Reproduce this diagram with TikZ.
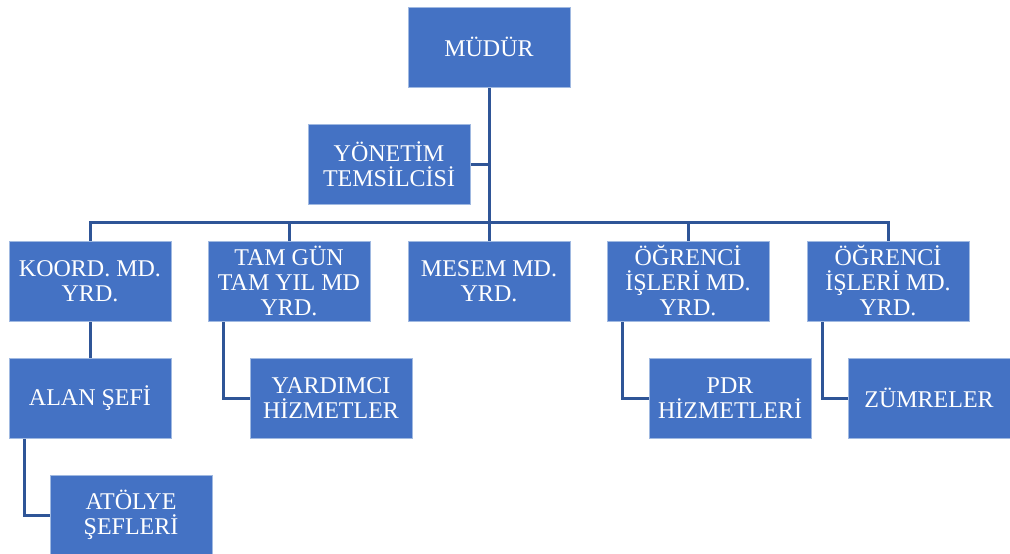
\documentclass[tikz,border=0pt]{standalone}
\usepackage{fontspec}
\setmainfont{Liberation Serif}
\usetikzlibrary{backgrounds}
\definecolor{boxblue}{RGB}{68,114,196}
\definecolor{lineblue}{RGB}{47,85,151}
\definecolor{boxedge}{RGB}{160,185,225}
\tikzset{
  orgbox/.style={rectangle, fill=boxblue, draw=boxedge, line width=0.6pt,
    minimum width=162pt, minimum height=80pt, inner sep=0pt,
    text=white, align=center, font=\fontsize{24}{25}\selectfont},
  conn/.style={draw=lineblue, line width=3pt}
}
\begin{document}
\begin{tikzpicture}[x=1pt,y=-1pt]
\useasboundingbox (0,0) rectangle (1010,554);
\node[orgbox] (mudur) at (489,47) {MÜDÜR};
\node[orgbox] (yon) at (389,164.5) {YÖNETİM\\TEMSİLCİSİ};
\node[orgbox] (koord) at (90,281) {KOORD. MD.\\YRD.};
\node[orgbox] (tam) at (289,281) {TAM GÜN\\TAM YIL MD\\YRD.};
\node[orgbox] (mesem) at (489,281) {MESEM MD.\\YRD.};
\node[orgbox] (og1) at (688,281) {ÖĞRENCİ\\İŞLERİ MD.\\YRD.};
\node[orgbox] (og2) at (888,281) {ÖĞRENCİ\\İŞLERİ MD.\\YRD.};
\node[orgbox] (alan) at (90,398) {ALAN ŞEFİ};
\node[orgbox] (yard) at (331,398) {YARDIMCI\\HİZMETLER};
\node[orgbox] (pdr) at (730,398) {PDR\\HİZMETLERİ};
\node[orgbox] (zum) at (929,398) {ZÜMRELER};
\node[orgbox] (atol) at (131,515) {ATÖLYE\\ŞEFLERİ};
\coordinate (bus) at (489,222);
\begin{pgfonlayer}{background}
\draw[conn] (mudur.south) -- (bus);
\draw[conn] (yon.east) -- (yon.east -| mudur.south);
\draw[conn] (koord.north) |- (bus) -| (og2.north);
\draw[conn] (tam.north) -- (tam.north |- bus);
\draw[conn] (mesem.north) -- (bus);
\draw[conn] (og1.north) -- (og1.north |- bus);
\draw[conn] (koord.south) -- (alan.north);
\draw[conn] ([xshift=16pt]tam.south west) |- (yard.west);
\draw[conn] ([xshift=16pt]og1.south west) |- (pdr.west);
\draw[conn] ([xshift=16pt]og2.south west) |- (zum.west);
\draw[conn] ([xshift=16pt]alan.south west) |- (atol.west);
\end{pgfonlayer}
\end{tikzpicture}
\end{document}
